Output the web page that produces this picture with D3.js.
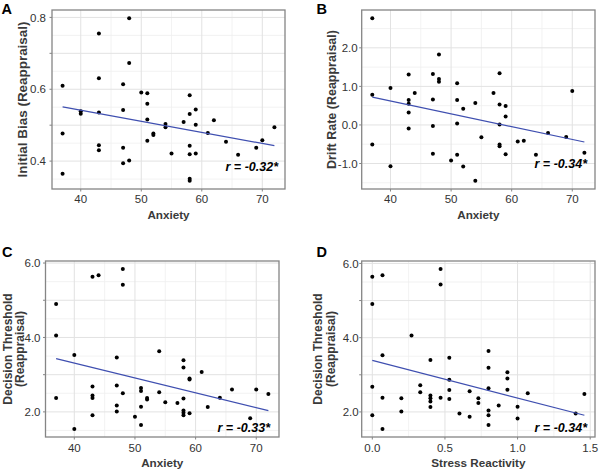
<!DOCTYPE html>
<html><head><meta charset="utf-8">
<script src="https://cdn.jsdelivr.net/npm/d3@7"></script>
<style>
body{margin:0;background:#fff}
svg{display:block}
text{font-family:"Liberation Sans",Arial,Helvetica,sans-serif}
</style>
</head><body>
<svg id="chart" width="600" height="470"></svg>
<script>
// ---------- data ----------
const anxietyA=[37,37,37,40,40,43,43,43,43,43,47,47,47,47,48,48,48,50,51,51,51,51,52,52,54,54,55,57,58,58,58,58,58,58,59,59,59,61,62,64,66,69,70,72];
const biasA=[0.610,0.477,0.365,0.539,0.532,0.755,0.631,0.535,0.444,0.430,0.614,0.542,0.437,0.394,0.798,0.673,0.402,0.591,0.589,0.560,0.516,0.457,0.477,0.473,0.503,0.494,0.421,0.509,0.583,0.531,0.443,0.419,0.351,0.345,0.544,0.501,0.421,0.478,0.514,0.454,0.418,0.437,0.458,0.494];

const anxietyB=[37,37,37,40,40,43,43,43,43,43,44,47,47,47,47,48,48,48,50,51,51,51,51,52,52,54,54,55,57,58,58,58,58,58,59,59,59,61,62,64,66,69,70,72];
const driftB=[2.77,0.78,-0.51,0.96,-1.07,1.31,0.65,0.55,0.32,-0.09,0.83,1.32,0.66,-0.03,-0.75,1.83,1.19,1.12,-0.92,1.08,0.65,0.04,-0.77,0.42,-1.08,0.57,-1.45,-0.32,0.83,1.34,0.53,0.01,-0.51,-0.55,0.49,0.22,-0.76,-0.43,-0.41,-0.77,-0.21,-0.31,0.88,-0.72];

const anxietyC=[37,37,37,40,40,43,43,43,43,43,44,47,47,47,47,48,48,48,50,51,51,51,51,52,52,54,54,55,57,58,58,58,58,58,58,59,59,59,61,62,64,66,69,70,72];
const thresholdC=[4.90,4.05,2.37,3.53,1.54,5.63,2.68,2.44,2.37,1.91,5.67,3.46,2.71,2.17,2.01,5.84,5.42,2.50,1.87,2.64,2.56,2.14,1.65,2.37,2.33,3.63,2.53,2.26,2.24,3.39,3.19,2.36,2.04,1.98,1.91,2.90,2.87,1.96,3.07,2.13,2.38,2.60,1.83,2.60,2.48];

const stressD=[0,0,0,0,0.07,0.07,0.07,0.07,0.20,0.20,0.27,0.33,0.33,0.40,0.40,0.40,0.40,0.40,0.47,0.47,0.47,0.53,0.53,0.53,0.53,0.60,0.67,0.67,0.73,0.73,0.80,0.80,0.80,0.80,0.80,0.80,0.87,0.93,0.93,0.93,1.00,1.00,1.07,1.40,1.46];
const thresholdD=[5.64,4.91,2.68,1.91,5.68,3.53,2.38,1.54,2.37,2.01,4.06,2.72,2.53,3.40,2.44,2.37,2.28,2.13,5.85,5.43,2.38,3.46,2.87,2.59,2.35,1.96,2.56,1.87,2.37,2.24,3.64,3.19,2.64,2.04,1.91,1.65,2.17,3.07,2.90,2.60,2.14,1.82,2.50,1.96,2.48];

const xTicksAnxiety=[40,50,60,70];
const xTicksStress=[0,0.5,1.0,1.5];
const yTicksBias=[0.4,0.5,0.6,0.7,0.8];
const yLabelsBias=[0.4,0.6,0.8];
const yTicksDrift=[-1,0,1,2];
const yLabelsDrift=[-1,0,1,2];
const yTicksThreshold=[2,3,4,5,6];
const yLabelsThreshold=[2,4,6];

const panelLetters=["A","B","C","D"];
const rLabels=["r = -0.32*","r = -0.34*","r = -0.33*","r = -0.34*"];
const xTitles=["Anxiety","Anxiety","Anxiety","Stress Reactivity"];
const yTitles=[["Initial Bias (Reappraisal)"],["Drift Rate (Reappraisal)"],["Decision Threshold","(Reappraisal)"],["Decision Threshold","(Reappraisal)"]];

// ---------- layout ----------
const panels=[
  {x:anxietyA,y:biasA,xt:xTicksAnxiety,yt:yTicksBias,yl:yLabelsBias,xInt:true,
   l:52,r:285,t:10,b:189,ylGap:6,xlBase:202.5,xTitleBase:218.5,yTitleX:[22],yTitleSize:12.5,yTitleLen:[156],
   letter:[1.5,13.5],rPos:[278,171]},
  {x:anxietyB,y:driftB,xt:xTicksAnxiety,yt:yTicksDrift,yl:yLabelsDrift,xInt:true,
   l:361.7,r:595,t:10,b:189,ylGap:4,xlBase:202.5,xTitleBase:218.5,yTitleX:[331.5],yTitleSize:12.5,yTitleLen:[null],
   letter:[316.5,13.5],rPos:[587,167.5]},
  {x:anxietyC,y:thresholdC,xt:xTicksAnxiety,yt:yTicksThreshold,yl:yLabelsThreshold,xInt:true,
   l:45.5,r:279,t:261,b:437,ylGap:5,xlBase:451.5,xTitleBase:466.5,yTitleX:[8,20],yTitleSize:12,yTitleLen:[null,null],
   letter:[2,257],rPos:[270,431.5]},
  {x:stressD,y:thresholdD,xt:xTicksStress,yt:yTicksThreshold,yl:yLabelsThreshold,xInt:false,
   l:361.7,r:595,t:261,b:437,ylGap:3,xlBase:451.5,xTitleBase:466.5,yTitleX:[317.5,330.5],yTitleSize:12,yTitleLen:[null,null],
   letter:[316.5,257],rPos:[587,431.5]}
];

const svg=d3.select("#chart");
svg.append("rect").attr("width",600).attr("height",470).attr("fill","#fff");

function expand(arr){const e=d3.extent(arr);const p=(e[1]-e[0])*0.05;return [e[0]-p,e[1]+p];}
function minors(ticks,dom){
  const step=ticks[1]-ticks[0];const out=[];
  for(let v=ticks[0]-step/2;v<=dom[1]+1e-9;v+=step){if(v>=dom[0]-1e-9)out.push(v);}
  return out;
}
function fmt(v){return v.toFixed(1);}
function fit(xs,ys){
  const mx=d3.mean(xs),my=d3.mean(ys);
  let sxy=0,sxx=0;xs.forEach((x,i)=>{sxy+=(x-mx)*(ys[i]-my);sxx+=(x-mx)*(x-mx);});
  const b=sxy/sxx;return {b,a:my-b*mx};
}

panels.forEach((p,i)=>{
  const xd=expand(p.x), yd=expand(p.y);
  const xs=d3.scaleLinear().domain(xd).range([p.l,p.r]);
  const ys=d3.scaleLinear().domain(yd).range([p.b,p.t]);
  const g=svg.append("g");
  g.append("rect").attr("x",p.l).attr("y",p.t).attr("width",p.r-p.l).attr("height",p.b-p.t).attr("fill","#fff");
  // minor grid
  g.selectAll(null).data(minors(p.xt,xd)).join("line")
    .attr("x1",d=>xs(d)).attr("x2",d=>xs(d)).attr("y1",p.t).attr("y2",p.b)
    .attr("stroke","#efefef").attr("stroke-width",0.8);
  g.selectAll(null).data(minors(p.yt,yd)).join("line")
    .attr("y1",d=>ys(d)).attr("y2",d=>ys(d)).attr("x1",p.l).attr("x2",p.r)
    .attr("stroke","#efefef").attr("stroke-width",0.8);
  // major grid
  g.selectAll(null).data(p.xt.filter(v=>v>=xd[0]&&v<=xd[1])).join("line")
    .attr("x1",d=>xs(d)).attr("x2",d=>xs(d)).attr("y1",p.t).attr("y2",p.b)
    .attr("stroke","#e2e2e2").attr("stroke-width",1);
  g.selectAll(null).data(p.yt.filter(v=>v>=yd[0]&&v<=yd[1])).join("line")
    .attr("y1",d=>ys(d)).attr("y2",d=>ys(d)).attr("x1",p.l).attr("x2",p.r)
    .attr("stroke","#e2e2e2").attr("stroke-width",1);
  // points
  g.selectAll(null).data(p.x.map((x,k)=>[x,p.y[k]])).join("circle")
    .attr("cx",d=>xs(d[0])).attr("cy",d=>ys(d[1])).attr("r",2).attr("fill","#000");
  // regression line
  const f=fit(p.x,p.y);
  const ex=d3.extent(p.x);
  g.append("line").attr("x1",xs(ex[0])).attr("y1",ys(f.a+f.b*ex[0]))
    .attr("x2",xs(ex[1])).attr("y2",ys(f.a+f.b*ex[1]))
    .attr("stroke","#3f4fb0").attr("stroke-width",1.2);
  // border
  g.append("rect").attr("x",p.l).attr("y",p.t).attr("width",p.r-p.l).attr("height",p.b-p.t)
    .attr("fill","none").attr("stroke","#858585").attr("stroke-width",1.3);
  // ticks
  g.selectAll(null).data(p.xt).join("line")
    .attr("x1",d=>xs(d)).attr("x2",d=>xs(d)).attr("y1",p.b).attr("y2",p.b+2.5)
    .attr("stroke","#858585").attr("stroke-width",1);
  g.selectAll(null).data(p.yt).join("line")
    .attr("y1",d=>ys(d)).attr("y2",d=>ys(d)).attr("x1",p.l-2.5).attr("x2",p.l)
    .attr("stroke","#858585").attr("stroke-width",1);
  // tick labels
  g.selectAll(null).data(p.xt).join("text")
    .attr("x",d=>xs(d)).attr("y",p.xlBase).attr("text-anchor","middle")
    .attr("font-size",11.5).attr("fill","#333").text(d=>p.xInt?d3.format("d")(d):fmt(d));
  g.selectAll(null).data(p.yl).join("text")
    .attr("x",p.l-p.ylGap).attr("y",d=>ys(d)).attr("dy","0.36em").attr("text-anchor","end")
    .attr("font-size",11.5).attr("fill","#333").text(d=>fmt(d));
  // x title
  g.append("text").attr("x",(p.l+p.r)/2).attr("y",p.xTitleBase).attr("text-anchor","middle")
    .attr("font-size",11.7).attr("font-weight","bold").attr("fill","#3a3a3a").text(xTitles[i]);
  // y title
  const cy=(p.t+p.b)/2;
  yTitles[i].forEach((line,k)=>{
    const t=g.append("text").attr("transform",`translate(${p.yTitleX[k]},${cy}) rotate(-90)`)
      .attr("dy","0.36em").attr("text-anchor","middle")
      .attr("font-size",p.yTitleSize).attr("font-weight","bold").attr("fill","#3a3a3a").text(line);
    if(p.yTitleLen[k]) t.attr("textLength",p.yTitleLen[k]).attr("lengthAdjust","spacingAndGlyphs");
  });
  // panel letter
  g.append("text").attr("x",p.letter[0]).attr("y",p.letter[1])
    .attr("font-size",14.5).attr("font-weight","bold").attr("fill","#000").text(panelLetters[i]);
  // r annotation
  g.append("text").attr("x",p.rPos[0]).attr("y",p.rPos[1]).attr("text-anchor","end")
    .attr("font-size",12.5).attr("font-weight","bold").attr("font-style","italic").attr("fill","#000").text(rLabels[i]);
});
</script>
</body></html>
